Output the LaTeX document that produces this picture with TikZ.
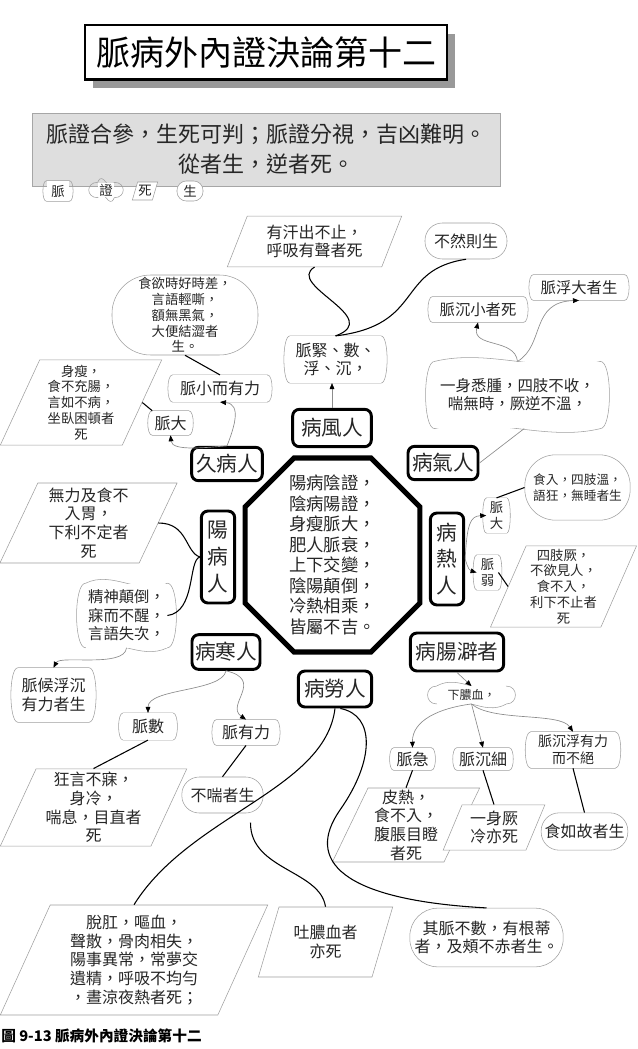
\documentclass[tikz,border=0pt]{standalone}
\usepackage{fontspec}
\setmainfont{Noto Sans CJK TC}
\usetikzlibrary{arrows.meta, calc, shapes.geometric, shapes.misc}

\colorlet{linegray}{black!38}
\colorlet{arrowgray}{black!45}
\colorlet{textgray}{black!85}

\begin{document}
\begin{tikzpicture}[
		x=0.75pt, y=-0.75pt,
		keybox/.style={
			draw, line width=2.2pt, rounded corners=5pt, fill=white,
			align=center, inner sep=2pt, text=textgray,
			font=\fontsize{15.5}{20}\selectfont,
		},
		bagua/.style={
			chamfered rectangle, chamfered rectangle xsep=33pt,
			draw, line width=3.8pt, fill=white,
			align=center, inner sep=0pt, text=textgray,
			font=\fontsize{13}{15.4}\selectfont,
		},
		mai/.style={
			fill=white, align=center, inner sep=1pt, text=textgray,
			font=\fontsize{12}{14}\selectfont,
			append after command={\pgfextra{
				\draw[linegray] (\tikzlastnode.north west) -- (\tikzlastnode.north east)
					.. controls +(#1,0) and +(#1,0) .. (\tikzlastnode.south east)
					.. controls +(-#1,0) and +(-#1,0) .. (\tikzlastnode.north east)
					(\tikzlastnode.south east) -- (\tikzlastnode.south west)
					.. controls +(-#1,0) and +(-#1,0) .. (\tikzlastnode.north west);
			}},
		},
		mai/.default=4.5pt,
		si/.style={
			trapezium, trapezium left angle=67, trapezium right angle=113,
			trapezium stretches=true,
			draw=linegray, fill=white, align=center, inner sep=0pt, text=textgray,
			font=\fontsize{12}{14}\selectfont,
		},
		sheng/.style={
			rectangle, rounded corners=#1, draw=linegray, fill=white,
			align=center, inner sep=1pt, text=textgray,
			font=\fontsize{12}{14}\selectfont,
		},
		sheng/.default=13pt,
		zheng/.style={
			fill=white, align=center, inner sep=1pt, text=textgray,
			font=\fontsize{12}{14}\selectfont,
			append after command={\pgfextra{
				\draw[linegray] (\tikzlastnode.north west)
					.. controls ($(\tikzlastnode.north west)!.33!(\tikzlastnode.north east)+(0,10pt)$)
					and ($(\tikzlastnode.north west)!.67!(\tikzlastnode.north east)+(0,-10pt)$) .. (\tikzlastnode.north east)
					.. controls +(9pt,0) and +(9pt,0) .. (\tikzlastnode.south east)
					.. controls ($(\tikzlastnode.south west)!.67!(\tikzlastnode.south east)+(0,-10pt)$)
					and ($(\tikzlastnode.south west)!.33!(\tikzlastnode.south east)+(0,10pt)$) .. (\tikzlastnode.south west)
					.. controls +(-9pt,0) and +(-9pt,0) .. (\tikzlastnode.north west);
			}},
		},
		small/.style={font=\fontsize{10}{11.8}\selectfont},
		garrow/.style={draw=arrowgray, line width=0.5pt, -{Triangle[length=4.5pt, width=3.6pt, color=black]}},
		bline/.style={draw=black, line width=0.8pt},
	]

	\useasboundingbox (0,0) rectangle (637,1049);

	% Titre et devise
	\node[fill=black!40, minimum width=271.5pt, minimum height=41pt, inner sep=0pt] (titleshadow) at (274,61) {};
	\node[draw, line width=2pt, fill=white, minimum width=271.5pt, minimum height=41pt, inner sep=0pt,
		font=\fontsize{25.5}{28}\selectfont] (title) at (266,52.5) {脈病外內證決論第十二};
	\node[draw=black!35, fill=black!13, minimum width=351pt, minimum height=55pt, align=center, inner sep=0pt,
		text=textgray, font=\fontsize{16.5}{22.5}\selectfont] (motto) at (266,149.5) {脈證合參，生死可判；脈證分視，吉凶難明。\\從者生，逆者死。};

	% Legende
	\node[mai=3.5pt, small, minimum width=17pt, minimum height=15pt] (lgmai) at (58,191) {脈};
	\node[zheng, small, minimum width=12pt, minimum height=10pt] (lgzheng) at (106,190) {證};
	\node[si, small, minimum width=19pt, minimum height=13.5pt] (lgsi) at (145,191) {死};
	\node[sheng=7pt, small, minimum width=19.5pt, minimum height=15pt] (lgsheng) at (190,191) {生};

	% Centre
	\node[bagua, minimum width=128pt, minimum height=145.5pt] (center) at (332.5,555) {陽病陰證，\\陰病陽證，\\身瘦脈大，\\肥人脈衰，\\上下交變，\\陰陽顛倒，\\冷熱相乘，\\皆屬不吉。};

	% Noeuds principaux
	\node[keybox, minimum width=59pt, minimum height=28pt] (feng) at (332,428) {病風人};
	\node[keybox, minimum width=53pt, minimum height=25pt] (jiu) at (227,464) {久病人};
	\node[keybox, minimum width=52.5pt, minimum height=25pt] (qi) at (443,463) {病氣人};
	\node[keybox, minimum width=25pt, minimum height=69pt] (yang) at (218,557) {陽\\病\\人};
	\node[keybox, minimum width=25pt, minimum height=69pt] (re) at (447,559) {病\\熱\\人};
	\node[keybox, minimum width=51pt, minimum height=26pt] (han) at (226,652) {病寒人};
	\node[keybox, minimum width=70pt, minimum height=28.5pt] (chang) at (457,652) {病腸澼者};
	\node[keybox, minimum width=55pt, minimum height=27pt] (lao) at (335,689) {病勞人};

	% Haut
	\node[si, minimum width=131pt, minimum height=38pt] (hanchu) at (314.5,241.5) {有汗出不止，\\呼吸有聲者死};
	\node[sheng=13pt, minimum width=61.5pt, minimum height=27pt] (buran) at (466,241) {不然則生};
	\node[mai, font=\fontsize{11.5}{13}\selectfont, minimum width=68pt, minimum height=19pt] (mfdzs) at (579,287.5) {脈浮大者生};
	\node[mai, font=\fontsize{11.5}{13}\selectfont, minimum width=68pt, minimum height=19pt] (mcxzs) at (478,309.5) {脈沉小者死};
	\node[mai=6pt, minimum width=68pt, minimum height=35pt] (mjin) at (335.5,359.5) {脈緊、數、\\浮、沉，};
	\node[zheng, font=\fontsize{11.6}{13.5}\selectfont, minimum width=124pt, minimum height=50pt] (yishen) at (517.5,395) {一身悉腫，四肢不收，\\喘無時，厥逆不溫，};
	\node[sheng=29pt, small, minimum width=109.5pt, minimum height=60pt] (shiyu) at (185,315) {食欲時好時差，\\言語輕嘶，\\額無黑氣，\\大便結澀者\\生。};
	\node[mai, minimum width=71pt, minimum height=20pt] (mxeyl) at (220,388.5) {脈小而有力};
	\node[si, small, minimum width=121.5pt, minimum height=64pt] (shenshou) at (81,402.5) {身瘦，\\食不充腸，\\言如不病，\\坐臥困頓者\\死};
	\node[mai, minimum width=27pt, minimum height=18pt] (mda1) at (170.5,423) {脈大};

	% Gauche
	\node[si, minimum width=133pt, minimum height=60pt] (wuli) at (88.5,523) {無力及食不\\入胃，\\下利不定者\\死};
	\node[zheng, font=\fontsize{11.5}{14}\selectfont, minimum width=61pt, minimum height=48pt] (jingshen) at (126.5,615.5) {精神顛倒，\\寐而不醒，\\言語失次，};
	\node[mai=7pt, minimum width=53pt, minimum height=40.5pt] (mhfc) at (53.5,695) {脈候浮沉\\有力者生};

	% Bas gauche
	\node[mai, minimum width=37pt, minimum height=20pt] (mshu) at (148,726.5) {脈數};
	\node[mai, minimum width=44pt, minimum height=19pt] (myl) at (246,732.5) {脈有力};
	\node[si, minimum width=140pt, minimum height=58pt] (kuang) at (93.5,807.5) {狂言不寐，\\身冷，\\喘息，目直者\\死};
	\node[sheng=13pt, minimum width=61pt, minimum height=27pt] (buchuan) at (222.5,795) {不喘者生};
	\node[si, minimum width=201pt, minimum height=82.5pt] (tuogang) at (134,960) {脫肛，嘔血，\\聲散，骨肉相失，\\陽事異常，常夢交\\遺精，呼吸不均勻\\，晝涼夜熱者死；};
	\node[si, minimum width=101pt, minimum height=52.5pt] (tunong) at (325.5,942) {吐膿血者\\亦死};
	\node[sheng=21pt, minimum width=115pt, minimum height=44pt] (qimai) at (486.5,937.5) {其脈不數，有根蒂\\者，及頰不赤者生。};

	% Bas droite
	\node[zheng, font=\fontsize{9}{11}\selectfont, minimum width=52pt, minimum height=13pt] (xianong) at (471.5,695) {下膿血，};
	\node[mai=4pt, minimum width=28pt, minimum height=16.5pt] (mji) at (412.5,759) {脈急};
	\node[mai=4pt, minimum width=39pt, minimum height=16.5pt] (mcx) at (483,759) {脈沉細};
	\node[mai=5.5pt, font=\fontsize{10.5}{12.5}\selectfont, minimum width=63pt, minimum height=27pt] (mcfyl) at (573,750) {脈沉浮有力\\而不絕};
	\node[si, minimum width=111pt, minimum height=55.5pt] (pire) at (406,825) {皮熱，\\食不入，\\腹脹目瞪\\者死};
	\node[si, minimum width=76.5pt, minimum height=34pt] (yishenjue) at (494,827.5) {一身厥\\冷亦死};
	\node[sheng=13.5pt, minimum width=65pt, minimum height=28pt] (shiru) at (584.5,831.5) {食如故者生};

	% Droite
	\node[mai=3.5pt, small, minimum width=15pt, minimum height=26pt] (mda2) at (496.5,515.5) {脈\\大};
	\node[mai=3.5pt, small, minimum width=16pt, minimum height=26pt] (mruo) at (487.5,572.5) {脈\\弱};
	\node[sheng=23pt, font=\fontsize{9.5}{12}\selectfont, minimum width=79pt, minimum height=49pt] (shiru2) at (577.5,487.5) {食入，四肢溫，\\語狂，無睡者生};
	\node[si, small, minimum width=110pt, minimum height=61pt] (sizhi) at (563.5,586.5) {四肢厥，\\不欲見人，\\食不入，\\利下不止者\\死};

	% Legende du bas
	\node[anchor=west, inner sep=0pt, font=\bfseries\fontsize{11}{13}\selectfont] (caption) at (1,1036) {圖 9-13 脈病外內證決論第十二};

	% Fleches grises
	\draw[garrow] (feng.north) -- (mjin.south -| feng.north);
	\draw[garrow] (jiu.north) .. controls (234,428) and (242,404) .. (mxeyl.south);
	\draw[garrow] (jiu.north) .. controls (210,447) and (172,452) .. (mda1.south);
	\draw[draw=arrowgray, line width=0.5pt] (qi.east) -- ([xshift=5pt]yishen.south);
	\draw[garrow] (yishen.north) .. controls (515,338) and (472,348) .. (mcxzs.south);
	\draw[garrow] (yishen.north) .. controls (545,345) and (530,302) .. (mfdzs.south);
	\draw[garrow] (re.east) .. controls (467,525) and (470,516) .. (mda2.west);
	\draw[garrow] (re.east) .. controls (466,561) and (468,570) .. (mruo.west);
	\draw[garrow] (chang.south) -- (xianong.north);
	\draw[garrow] (xianong.south) .. controls (440,708) and (412,720) .. (mji.north);
	\draw[garrow] (xianong.south) -- (mcx.north);
	\draw[garrow] (xianong.south) .. controls (492,722) and (560,712) .. (mcfyl.north);
	\draw[garrow] (han.south) .. controls (222,692) and (148,688) .. (mshu.north);
	\draw[garrow] (han.south) .. controls (265,680) and (225,705) .. (myl.north);
	\draw[garrow] (jingshen.south) .. controls (125,668) and (60,655) .. (mhfc.north);

	% Liens noirs
	\draw[bline] (mjin.north) .. controls (385,318) and (285,285) .. (hanchu.south);
	\draw[bline] (mjin.north) .. controls (425,325) and (395,270) .. (buran.south);
	\draw[bline] (mxeyl.north) -- (shiyu.south);
	\draw[bline] (mda1.north west) -- (shenshou.east);
	\draw[bline] (yang.west) .. controls (185,552) and (188,523) .. (wuli.east);
	\draw[bline] (yang.west) .. controls (188,560) and (196,612) .. (jingshen.east);
	\draw[bline] (mshu.south) -- (kuang.north);
	\draw[bline] (myl.south) -- (buchuan.north);
	\draw[bline] (lao.south) .. controls (325,790) and (190,815) .. (tuogang.north);
	\draw[bline] ([xshift=4pt]lao.south) .. controls (375,715) and (375,760) .. (340,810)
		.. controls (305,860) and (340,900) .. (qimai.north);
	\draw[bline] ([xshift=21pt, yshift=-7pt]buchuan.south) .. controls (250,870) and (320,870) .. (tunong.north);
	\draw[bline] (mji.south) -- (pire.north);
	\draw[bline] (mcx.south) -- (yishenjue.north);
	\draw[bline] (mcfyl.south) -- (shiru.north);
	\draw[bline] (mda2.north) -- (shiru2.west);
	\draw[bline] (mruo.east) -- (sizhi.west);

\end{tikzpicture}
\end{document}
